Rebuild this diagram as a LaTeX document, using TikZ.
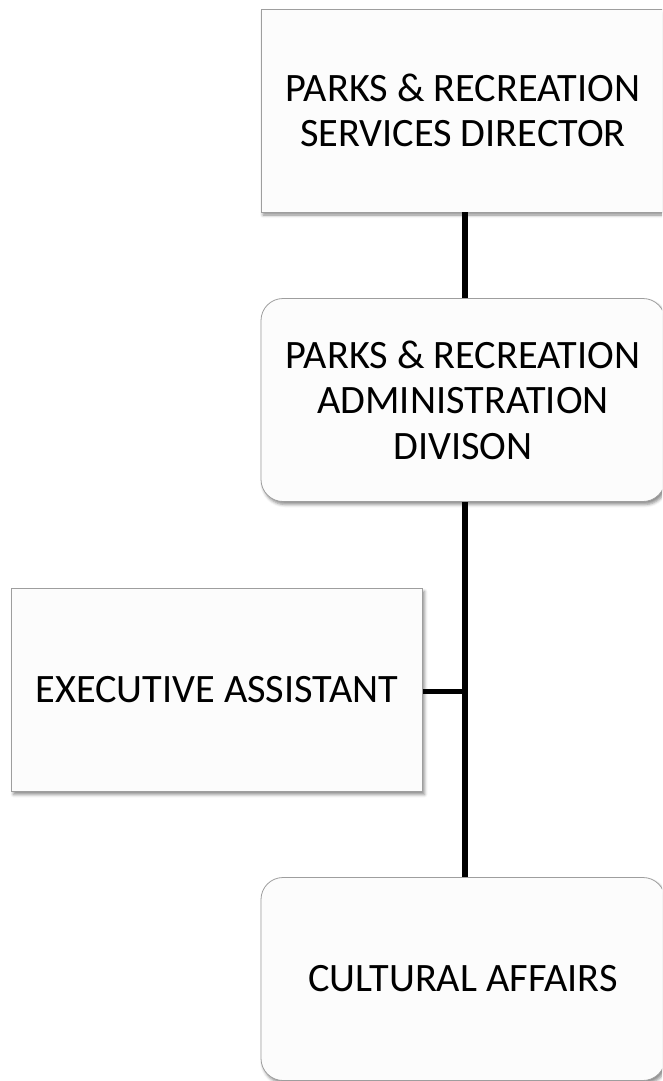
\documentclass[tikz,border=0pt]{standalone}
\usepackage{fontspec}
\setmainfont{Carlito}
\usetikzlibrary{shadows.blur}
\begin{document}
\begin{tikzpicture}[x=1pt,y=-1pt,
  orgbox/.style={draw=black!38, line width=0.8pt, fill=black!1,
    minimum width=404pt, minimum height=203pt, align=center,
    font=\fontsize{40.3}{45.5}\selectfont, inner sep=0pt,
    blur shadow={shadow xshift=2pt, shadow yshift=-3pt, shadow blur radius=3pt, shadow opacity=45}},
  roundbox/.style={orgbox, rounded corners=22pt},
  link/.style={line width=5.5pt, black}]
  \useasboundingbox (0,0) rectangle (662,1081);
  \begin{scope}
    \clip (0,0) rectangle (662,1081);
    \node[orgbox] (dir) at (463,110.5) {PARKS \& RECREATION\\SERVICES DIRECTOR};
    \node[roundbox] (adm) at (463,400) {PARKS \& RECREATION\\ADMINISTRATION\\DIVISON};
    \node[orgbox, minimum width=411pt] (exa) at (217,690) {EXECUTIVE ASSISTANT};
    \node[roundbox] (cul) at (463,979) {CULTURAL AFFAIRS};
  \end{scope}
  \coordinate (tee) at (465,691.5);
  \draw[link] (dir.south -| tee) -- (adm.north -| tee);
  \draw[link] (adm.south -| tee) -- (cul.north -| tee);
  \draw[link] (exa.east |- tee) -- ([xshift=2.75pt]tee);
\end{tikzpicture}
\end{document}
